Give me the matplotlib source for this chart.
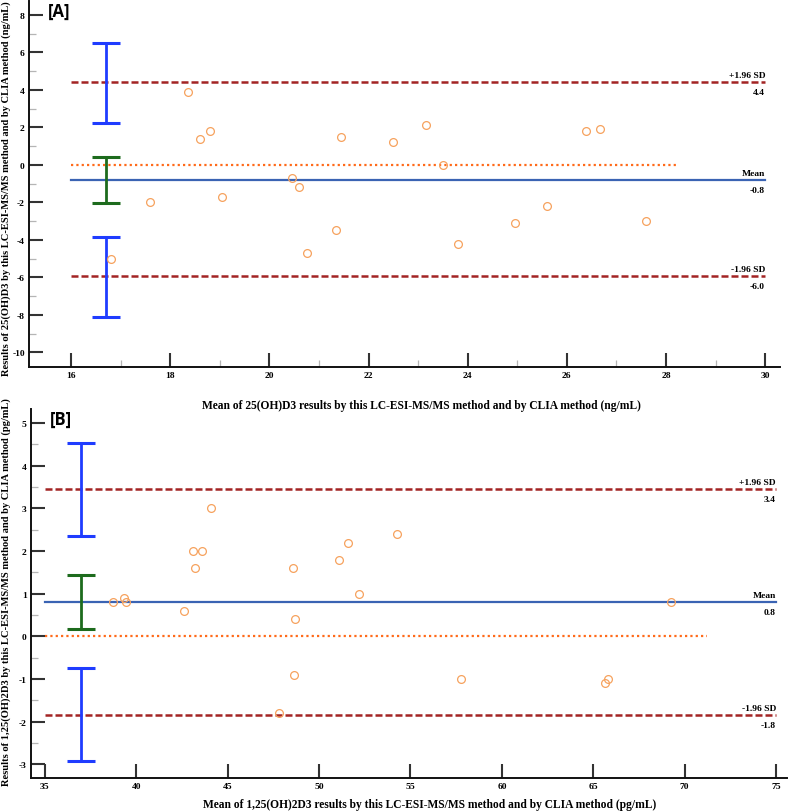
import matplotlib
matplotlib.use("Agg")
import matplotlib.pyplot as plt
import numpy as np

# ---------------- data ----------------
# Panel A: 25(OH)D3 (ng/mL)
a_mean_x = [16.80, 17.60, 18.36, 18.60, 18.80, 19.05, 20.45, 20.60, 20.76, 21.35,
            21.45, 22.50, 23.15, 23.50, 23.81, 24.95, 25.60, 26.39, 26.66, 27.60]
a_diff_y = [-5.0, -2.0, 3.9, 1.4, 1.8, -1.7, -0.7, -1.2, -4.7, -3.5,
            1.5, 1.2, 2.1, 0.0, -4.2, -3.1, -2.2, 1.8, 1.9, -3.0]
a_mean = -0.81
a_upper = 4.39
a_lower = -5.95
a_ci_upper = [2.22, 6.52]
a_ci_mean = [-2.03, 0.43]
a_ci_lower = [-8.12, -3.84]
a_xticks = [16, 18, 20, 22, 24, 26, 28, 30]
a_yticks = [-10, -8, -6, -4, -2, 0, 2, 4, 6, 8]

# Panel B: 1,25(OH)2D3 (pg/mL)
b_mean_x = [38.70, 39.34, 39.42, 42.61, 43.08, 43.19, 43.61, 44.09, 47.79, 48.59,
            48.63, 48.68, 51.09, 51.57, 52.19, 54.28, 57.79, 65.63, 65.80, 69.28]
b_diff_y = [0.8, 0.9, 0.8, 0.6, 2.0, 1.6, 2.0, 3.0, -1.8, 1.6,
            -0.9, 0.4, 1.8, 2.2, 1.0, 2.4, -1.0, -1.1, -1.0, 0.8]
b_mean = 0.81
b_upper = 3.45
b_lower = -1.84
b_ci_upper = [2.35, 4.54]
b_ci_mean = [0.17, 1.44]
b_ci_lower = [-2.93, -0.74]
b_xticks = [35, 40, 45, 50, 55, 60, 65, 70, 75]
b_yticks = [-3, -2, -1, 0, 1, 2, 3, 4, 5]

# ---------------- style ----------------
SERIF = "Liberation Serif"
C_PT = "#f6a25e"
C_MEAN = "#3a63b3"
C_SD = "#a32424"
C_ZERO = "#ff6a1a"
C_CI = "#1f3cff"
C_CIM = "#1d6b1d"

W, H = 789, 812
fig = plt.figure(figsize=(W / 100, H / 100), dpi=100)

def px_axes(l, t, r, b):
    return fig.add_axes([l / W, 1 - b / H, (r - l) / W, (b - t) / H])

axA = px_axes(29, 1.7, 780, 367.7)
axB = px_axes(30.7, 410, 787, 779)


def panel(ax, xs, ys, mean, up, lo, ci_up, ci_mean, ci_lo, ci_x,
          xline, zero_end, xlim, ylim, xticks, yticks, xminor, yminor,
          up_lbl, mean_lbl, lo_lbl, tag):
    ax.set_xlim(*xlim)
    ax.set_ylim(*ylim)
    for s in ("top", "right"):
        ax.spines[s].set_visible(False)
    for s in ("left", "bottom"):
        ax.spines[s].set_linewidth(1.4)
        ax.spines[s].set_color("#111111")

    x0, x1 = xline
    ax.plot([x0, zero_end], [0, 0], color=C_ZERO, lw=1.6,
            linestyle=(0, (1.0, 1.4)), zorder=2)
    ax.plot([x0, x1], [mean, mean], color=C_MEAN, lw=1.6, zorder=2)
    for v in (up, lo):
        ax.plot([x0, x1], [v, v], color=C_SD, lw=1.8,
                linestyle=(0, (2.8, 1.2)), zorder=2)

    for (lo_v, hi_v), col in ((ci_up, C_CI), (ci_mean, C_CIM), (ci_lo, C_CI)):
        mid = (lo_v + hi_v) / 2
        ax.errorbar([ci_x], [mid], yerr=[[mid - lo_v], [hi_v - mid]], fmt="none",
                    ecolor=col, elinewidth=2.0, capsize=9.8, capthick=2.2, zorder=3)

    ax.plot(xs, ys, linestyle="none", marker="o", markersize=5.6,
            markerfacecolor="none", markeredgecolor=C_PT, markeredgewidth=0.9, zorder=4)

    fs = 6.8
    for v, top, bot in ((up, "+1.96 SD", up_lbl), (mean, "Mean", mean_lbl),
                        (lo, "-1.96 SD", lo_lbl)):
        ax.annotate(top, xy=(x1, v), xytext=(0, 2.2), textcoords="offset points",
                    ha="right", va="bottom", fontsize=fs, fontweight="bold",
                    family=SERIF)
        ax.annotate(bot, xy=(x1, v), xytext=(0, -4.2), textcoords="offset points",
                    ha="right", va="top", fontsize=fs, fontweight="bold",
                    family=SERIF)

    ax.set_xticks(xticks)
    ax.set_yticks(yticks)
    ax.set_xticklabels([str(t) for t in xticks])
    ax.set_yticklabels([str(t) for t in yticks])
    if xminor:
        ax.set_xticks(xminor, minor=True)
    if yminor:
        ax.set_yticks(yminor, minor=True)
    ax.tick_params(which="major", direction="in", length=10, width=1.5,
                   color="#333333", labelsize=6.8, pad=3)
    ax.tick_params(which="minor", direction="in", length=5, width=0.9,
                   color="#b5b5b5")
    for lab in ax.get_xticklabels() + ax.get_yticklabels():
        lab.set_family(SERIF)
        lab.set_fontweight("bold")

    ax.text(0.025, 0.997, tag, transform=ax.transAxes, ha="left", va="top",
            fontsize=12, fontweight="bold", family="Open Sans")


panel(axA, a_mean_x, a_diff_y, a_mean, a_upper, a_lower,
      a_ci_upper, a_ci_mean, a_ci_lower, 16.70,
      (16, 30), 28.26, (15.15, 30.3), (-10.77, 8.75),
      a_xticks, a_yticks, [17, 19, 21, 23, 25, 27, 29],
      [-9, -7, -5, -3, -1, 1, 3, 5, 7],
      "4.4", "-0.8", "-6.0", "[A]")

panel(axB, b_mean_x, b_diff_y, b_mean, b_upper, b_lower,
      b_ci_upper, b_ci_mean, b_ci_lower, 36.97,
      (35, 75), 71.2, (34.22, 75.6), (-3.32, 5.33),
      b_xticks, b_yticks, None,
      [-2.5, -1.5, -0.5, 0.5, 1.5, 2.5, 3.5, 4.5],
      "3.4", "0.8", "-1.8", "[B]")

xlab_kw = dict(fontsize=8.3, fontweight="bold", family=SERIF)
ylab_kw = dict(fontsize=7.6, fontweight="bold", family=SERIF)
fig.text(421.5 / W, 1 - 406 / H,
         "Mean of 25(OH)D3 results by this LC-ESI-MS/MS method and by CLIA method (ng/mL)",
         ha="center", va="center", **xlab_kw)
fig.text(429.5 / W, 1 - 805 / H,
         "Mean of 1,25(OH)2D3 results by this LC-ESI-MS/MS method and by CLIA method (pg/mL)",
         ha="center", va="center", **xlab_kw)
fig.text(6.5 / W, 1 - 189 / H,
         "Results of 25(OH)D3 by this LC-ESI-MS/MS method and by CLIA method (ng/mL)",
         ha="center", va="center", rotation=90, **ylab_kw)
fig.text(6.5 / W, 1 - 592 / H,
         "Results of 1,25(OH)2D3 by this LC-ESI-MS/MS method and by CLIA method (pg/mL)",
         ha="center", va="center", rotation=90, **ylab_kw)

fig.savefig("out.png", dpi=100)
